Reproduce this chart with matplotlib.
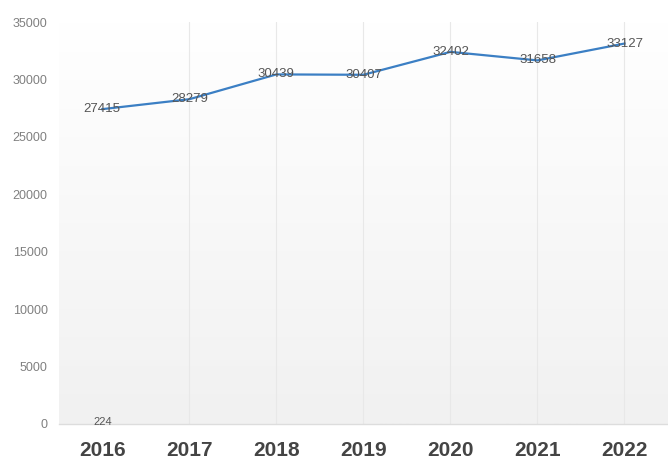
import matplotlib
matplotlib.use("Agg")
import matplotlib.pyplot as plt
import numpy as np
from matplotlib.colors import LinearSegmentedColormap

plt.rcParams["font.family"] = ["Liberation Sans", "DejaVu Sans"]

years = ["2016", "2017", "2018", "2019", "2020", "2021", "2022"]
values = [27415, 28279, 30439, 30407, 32402, 31658, 33127]
extra_values = [224]  # stray label shown at 2016
y_ticks = [0, 5000, 10000, 15000, 20000, 25000, 30000, 35000]

fig = plt.figure(figsize=(6.68, 4.59), dpi=100)
ax = fig.add_axes([0.088, 0.0763, 0.912, 0.952 - 0.0763])

x = np.arange(len(years))
ax.set_xlim(-0.5, len(years) - 0.5)
ax.set_ylim(0, 35000)

# gradient background
grad = np.linspace(0, 1, 256).reshape(-1, 1)
cmap = LinearSegmentedColormap.from_list("bg", ["#f1f1f1", "#ffffff"])
ax.imshow(grad, extent=[-0.5, len(years) - 0.5, 0, 35000], origin="lower",
          aspect="auto", cmap=cmap, zorder=0)

# vertical faint gridlines
for xi in x[1:]:
    ax.axvline(xi, color="#e8e8e8", lw=0.8, zorder=1)

ax.plot(x, values, color="#3b7fc4", lw=1.6, zorder=3)
for xi, v in zip(x, values):
    ax.text(xi, v, str(v), ha="center", va="center", fontsize=9.5,
            color="#555555", zorder=4)
for xi, v in zip(x, extra_values):
    ax.text(xi, v, str(v), ha="center", va="center_baseline", fontsize=8,
            color="#555555", zorder=4)

ax.set_xticks(x)
ax.set_xticklabels(years, fontsize=15, fontweight="bold", color="#444444")
ax.set_yticks(y_ticks)
ax.set_yticklabels([str(t) for t in y_ticks], fontsize=9, color="#808080")
ax.tick_params(axis="both", length=0)
ax.tick_params(axis="y", pad=8)
ax.tick_params(axis="x", pad=12)
for s in ["top", "right", "left"]:
    ax.spines[s].set_visible(False)
ax.spines["bottom"].set_color("#dddddd")
ax.spines["bottom"].set_linewidth(1)

fig.savefig("out.png", dpi=100)
